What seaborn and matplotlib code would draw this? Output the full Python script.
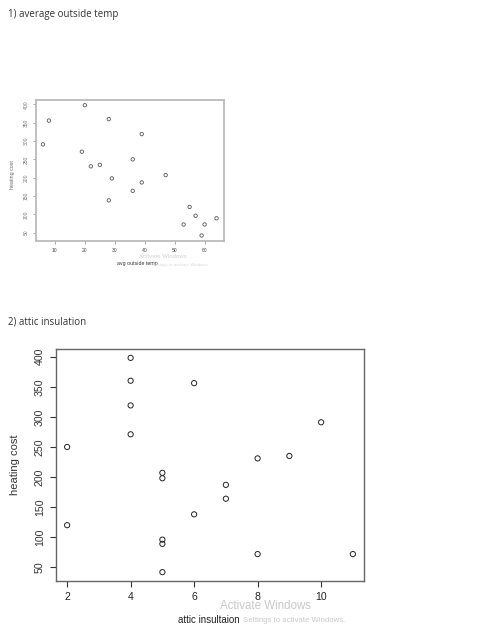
import matplotlib
matplotlib.use("Agg")
import matplotlib.pyplot as plt
import seaborn as sns
import pandas as pd

# Data
avg_outside_temp = [6, 8, 20, 19, 22, 25, 28, 29, 28, 36, 36, 39, 39, 47, 55, 57, 53, 60, 59, 64]
attic_insulation = [10, 6, 4, 4, 8, 9, 4, 5, 6, 2, 7, 4, 7, 5, 2, 5, 8, 11, 5, 5]
heating_cost = [291, 356, 398, 271, 231, 235, 360, 198, 138, 250, 164, 319, 187, 207, 120, 96, 72, 72, 42, 89]

top_xticks = [10, 20, 30, 40, 50, 60]
top_yticks = [50, 100, 150, 200, 250, 300, 350, 400]
bot_xticks = [2, 4, 6, 8, 10]
bot_yticks = [50, 100, 150, 200, 250, 300, 350, 400]

df = pd.DataFrame({"temp": avg_outside_temp, "insul": attic_insulation, "cost": heating_cost})

sns.set_theme(style="white")
plt.rcParams["font.family"] = ["Liberation Sans", "DejaVu Sans"]

W, H = 497, 629
fig = plt.figure(figsize=(W / 100, H / 100), dpi=100)
fig.patch.set_facecolor("white")


def ax_rect(x0, y0, x1, y1):
    return [x0 / W, 1 - y1 / H, (x1 - x0) / W, (y1 - y0) / H]


def rlim(v):
    lo, hi = min(v), max(v)
    p = (hi - lo) * 0.04
    return lo - p, hi + p


# ---------- Top plot ----------
ax1 = fig.add_axes(ax_rect(36, 100, 223.5, 240.7))
sns.scatterplot(data=df, x="temp", y="cost", ax=ax1, marker="o", s=6,
                facecolor="none", edgecolor="#555555", linewidth=0.6)
ax1.set_xlim(*rlim(avg_outside_temp))
ax1.set_ylim(*rlim(heating_cost))
ax1.set_xticks(top_xticks)
ax1.set_yticks(top_yticks)
ax1.set_xticklabels([str(t) for t in top_xticks], fontsize=3.6, color="#444444")
ax1.set_yticklabels([str(t) for t in top_yticks], fontsize=3.6, color="#777777",
                    rotation=90, va="center")
ax1.tick_params(axis="both", direction="out", length=2.2, width=0.5, color="#888888",
                pad=3, left=True, bottom=True)
for sp in ax1.spines.values():
    sp.set_color("#b5b5b5")
    sp.set_linewidth(1.2)
ax1.set_xlabel("")
ax1.set_ylabel("")
fig.text(117 / W, 1 - 264 / H, "avg outside temp", fontsize=3.8, color="#333333",
         ha="left", va="center")
fig.text(12.5 / W, 1 - 175 / H, "heating cost", fontsize=3.8, color="#666666",
         rotation=90, ha="center", va="center")
# screenshot watermark
fig.text(163 / W, 1 - 256 / H, "Activate Windows", fontsize=4.3, color="#d0d0d0",
         ha="center", va="center")
fig.text(152 / W, 1 - 265 / H, "Settings to activate Windows.", fontsize=3.2,
         color="#d8d8d8", ha="left", va="center")

# ---------- Bottom plot ----------
ax2 = fig.add_axes(ax_rect(55.7, 349.3, 364.3, 580.7))
sns.scatterplot(data=df, x="insul", y="cost", ax=ax2, marker="o", s=14,
                facecolor="none", edgecolor="#222222", linewidth=0.7)
ax2.set_xlim(*rlim(attic_insulation))
ax2.set_ylim(*rlim(heating_cost))
ax2.set_xticks(bot_xticks)
ax2.set_yticks(bot_yticks)
ax2.set_xticklabels([str(t) for t in bot_xticks], fontsize=7.6, color="#222222")
ax2.set_yticklabels([str(t) for t in bot_yticks], fontsize=7.6, color="#333333",
                    rotation=90, va="center")
ax2.tick_params(axis="both", direction="out", length=4.3, width=0.8, color="#333333",
                pad=3.5, left=True, bottom=True)
for sp in ax2.spines.values():
    sp.set_color("#666666")
    sp.set_linewidth(1.0)
ax2.set_xlabel("")
ax2.set_ylabel("")
fig.text(209 / W, 1 - 620 / H, "attic insultaion", fontsize=7.0, color="#222222",
         ha="center", va="center")
fig.text(15 / W, 1 - 465 / H, "heating cost", fontsize=8.0, color="#333333",
         rotation=90, ha="center", va="center")
# screenshot watermark
fig.text(265 / W, 1 - 606 / H, "Activate Windows", fontsize=8.3, color="#c8c8c8",
         ha="center", va="center")
fig.text(243 / W, 1 - 620 / H, "Settings to activate Windows.", fontsize=5.6,
         color="#c8c8c8", ha="left", va="center")

# ---------- Section captions ----------
fig.text(8 / W, 1 - 15 / H, "1) average outside temp", fontsize=7.0, color="#333333",
         family=["Open Sans", "DejaVu Sans"], ha="left", va="center")
fig.text(8 / W, 1 - 322 / H, "2) attic insulation", fontsize=7.0, color="#333333",
         family=["Open Sans", "DejaVu Sans"], ha="left", va="center")

fig.savefig("out.png", dpi=100, facecolor="white")
